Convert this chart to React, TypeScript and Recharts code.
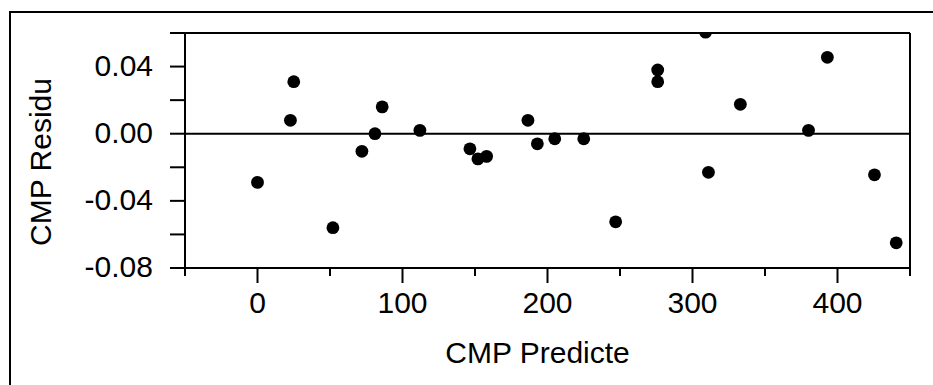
import React from 'react';
import { ScatterChart, Scatter, XAxis, YAxis, ReferenceLine } from 'recharts';

// CMP predicted value vs residual
const predicted = [
  0, 22.7, 25, 52, 72, 81, 86, 112, 146.5, 152, 158, 186.5, 193, 205, 225,
  247, 276, 276, 309, 311, 333, 380, 393, 425.5, 440.5,
];
const residual = [
  -0.029, 0.008, 0.031, -0.056, -0.0105, 0.0, 0.016, 0.002, -0.009, -0.015,
  -0.0135, 0.008, -0.006, -0.003, -0.003, -0.0525, 0.038, 0.031, 0.0605,
  -0.023, 0.0175, 0.002, 0.0455, -0.0245, -0.065,
];

const xTicks = [-50, 0, 50, 100, 150, 200, 250, 300, 350, 400, 450];
const xLabels = [0, 100, 200, 300, 400];
const yTicks = [-0.08, -0.06, -0.04, -0.02, 0, 0.02, 0.04, 0.06];
const yLabels = [-0.08, -0.04, 0, 0.04];

const points = predicted.map((x, i) => ({ x, y: residual[i] }));

const FONT = '"Liberation Sans", Arial, sans-serif';
const FONT_SIZE = 30;

function XTick({ x, y, payload }: any) {
  const major = xLabels.includes(payload.value);
  return (
    <g>
      <line x1={x} x2={x} y1={y} y2={y + (major ? 15 : 8)} stroke="#000" strokeWidth={2} />
      {major && (
        <text x={x} y={y + 45} textAnchor="middle" fontSize={FONT_SIZE} fontFamily={FONT} fill="#000">
          {payload.value}
        </text>
      )}
    </g>
  );
}

function YTick({ x, y, payload }: any) {
  const major = yLabels.includes(payload.value);
  return (
    <g>
      <line x1={x - 15} x2={x} y1={y} y2={y} stroke="#000" strokeWidth={2} />
      {major && (
        <text x={x - 32} y={y + 9} textAnchor="end" fontSize={FONT_SIZE} fontFamily={FONT} fill="#000">
          {payload.value.toFixed(2)}
        </text>
      )}
    </g>
  );
}

function Dot({ cx, cy }: any) {
  return <circle cx={cx} cy={cy} r={6.4} fill="#000" />;
}

const line = { stroke: '#000', strokeWidth: 2 };

export default function App() {
  return (
    <div style={{ position: 'absolute', left: 0, top: 0, width: 933, height: 385, overflow: 'hidden', background: '#fff' }}>
      <div
        style={{
          position: 'absolute',
          left: 9,
          top: 11,
          width: 1000,
          height: 500,
          borderLeft: '2px solid #000',
          borderTop: '2px solid #000',
        }}
      />
      <ScatterChart
        width={933}
        height={385}
        margin={{ top: 33, right: 23, bottom: 0, left: 0 }}
        style={{ position: 'absolute', left: 0, top: 0 }}
      >
        <XAxis
          dataKey="x"
          type="number"
          domain={[-50, 450]}
          ticks={xTicks}
          interval={0}
          height={117}
          tickSize={0}
          tickMargin={0}
          tickLine={false}
          axisLine={line}
          tick={<XTick />}
          label={{
            value: 'CMP Predicte',
            position: 'insideTop',
            offset: 74,
            dx: -10,
            fontSize: FONT_SIZE,
            fontFamily: FONT,
            fill: '#000',
          }}
        />
        <YAxis
          dataKey="y"
          type="number"
          domain={[-0.08, 0.06]}
          allowDataOverflow
          ticks={yTicks}
          interval={0}
          width={185}
          tickSize={0}
          tickMargin={0}
          tickLine={false}
          axisLine={line}
          tick={<YTick />}
          label={{
            value: 'CMP Residu',
            angle: -90,
            position: 'center',
            dx: -52.5,
            dy: 11.5,
            fontSize: FONT_SIZE,
            fontFamily: FONT,
            fill: '#000',
          }}
        />
        <ReferenceLine y={0.06} stroke="#000" strokeWidth={2} />
        <ReferenceLine x={450} stroke="#000" strokeWidth={2} />
        <ReferenceLine y={0} stroke="#000" strokeWidth={2} />
        <Scatter data={points} fill="#000" shape={<Dot />} isAnimationActive={false} />
      </ScatterChart>
    </div>
  );
}
